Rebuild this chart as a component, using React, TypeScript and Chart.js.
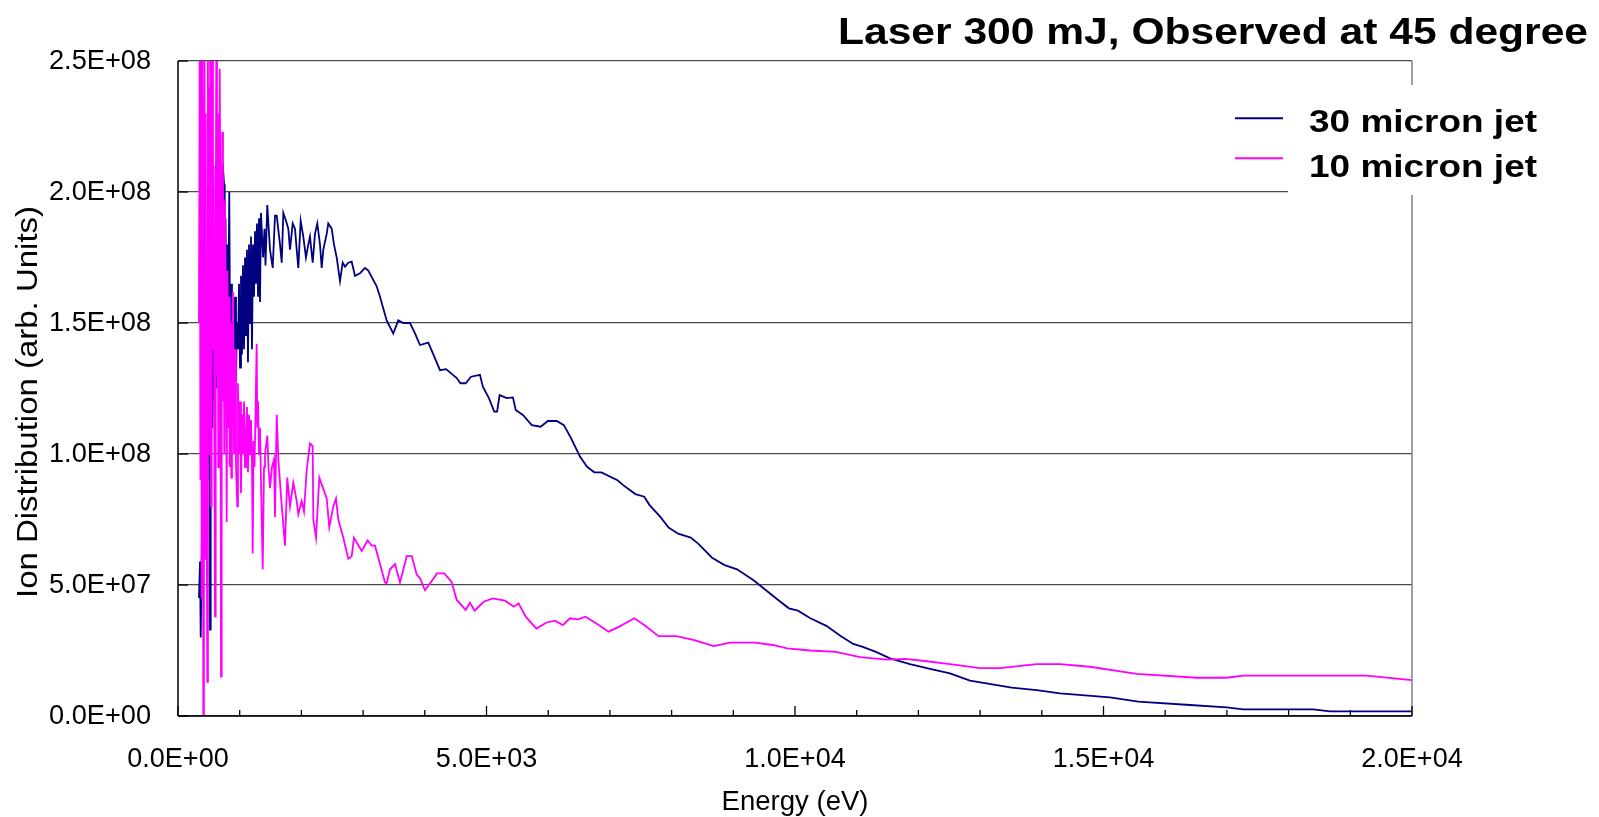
import React, { useEffect, useRef } from 'react';
import { Chart, registerables } from 'chart.js';

Chart.register(...registerables);

const TITLE = 'Laser 300 mJ, Observed at 45 degree';
const X_TITLE = 'Energy (eV)';
const Y_TITLE = 'Ion Distribution (arb. Units)';
const SERIES_NAMES = ['30 micron jet', '10 micron jet'];
const SERIES_COLORS = ['#000080', '#FF00FF'];

const X_MIN = 0;
const X_MAX = 20000;
const X_STEP = 5000;
const X_MINOR_STEP = 1000;
const Y_MIN = 0;
const Y_MAX = 2.5e8;
const Y_STEP = 5e7;
const VALUE_UNIT = 1e6; // values below are in millions

// 30 micron jet
const jet30Energy = [
  340, 357, 368, 381, 397, 413, 429, 446, 462, 478,
  494, 511, 519, 530, 543, 559, 575, 592, 608, 624,
  640, 656, 673, 689, 705, 724, 746, 757, 770, 786,
  802, 815, 831, 843, 859, 875, 891, 908, 924, 940,
  956, 972, 989, 1005, 1021, 1037, 1053, 1070, 1086, 1102,
  1118, 1134, 1151, 1167, 1183, 1199, 1216, 1232, 1248, 1264,
  1280, 1297, 1313, 1329, 1345, 1378, 1402, 1418, 1447, 1491,
  1535, 1572, 1600, 1653, 1681, 1707, 1750, 1788, 1815, 1859,
  1896, 1924, 1950, 1988, 2031, 2074, 2112, 2139, 2183, 2220,
  2258, 2301, 2329, 2355, 2410, 2436, 2491, 2528, 2572, 2626,
  2669, 2707, 2760, 2815, 2869, 2950, 3031, 3084, 3220, 3274,
  3382, 3489, 3570, 3651, 3760, 3841, 3922, 4057, 4138, 4246,
  4345, 4518, 4577, 4663, 4750, 4894, 4941, 5039, 5126, 5172,
  5212, 5329, 5428, 5473, 5590, 5734, 5878, 5995, 6139, 6254,
  6371, 6515, 6630, 6747, 6862, 7123, 7210, 7413, 7557, 7643,
  7818, 7951, 8107, 8309, 8426, 8656, 8859, 9061, 9322, 9525,
  9727, 9901, 10047, 10249, 10508, 10740, 10943, 11087, 11312, 11539,
  11863, 12188, 12512, 12836, 13512, 13917, 14295, 15105, 15564, 16402,
  16996, 17265, 18400, 18670, 20000,
];
const jet30Value = [
  45, 59, 30, 55, 90, 60, 110, 75, 120, 90,
  130, 96, 33, 100, 140, 110, 150, 120, 160, 125,
  180, 140, 170, 130, 195, 211, 203, 150, 190, 140,
  180, 150, 200, 147, 165, 120, 155, 130, 160, 128,
  150, 140, 165, 133, 168, 138, 172, 140, 175, 145,
  178, 135, 180, 150, 183, 140, 180, 160, 185, 165,
  188, 160, 190, 158, 192, 175, 186, 172, 195, 178,
  171, 191, 191, 180, 173, 192, 189, 186, 178, 188,
  186, 178, 171, 189, 183, 175, 180, 183, 173, 184,
  188, 180, 171, 178, 184, 188, 186, 180, 175, 166,
  173, 171.5, 173, 173.4, 168, 169, 171, 170, 164, 160,
  151, 146, 151, 150, 150, 146, 141.6, 142.5, 138, 132,
  132.4, 129, 127, 127, 129.5, 130.2, 125.7, 121.3, 116.2, 116.2,
  122.5, 121.3, 121.6, 116.8, 114.9, 111, 110.4, 112.6, 112.6, 111,
  106, 99, 95.1, 93, 93, 90, 88.2, 84.7, 83.7, 80.5,
  76, 71.9, 69.6, 68.1, 65.9, 60.4, 57.6, 56, 51.9, 48.1,
  44.3, 41.1, 40.2, 37.3, 34.4, 30.5, 27.5, 26.5, 24.5, 22,
  19.8, 18, 16.3, 13.5, 10.8, 9.9, 8.65, 7.1, 5.5, 4.2,
  3.3, 2.5, 2.5, 1.8, 1.8,
];

// 10 micron jet
const jet10Energy = [
  340, 352, 363, 373, 384, 394, 410, 420, 429, 438,
  449, 459, 475, 485, 494, 502, 514, 523, 535, 546,
  556, 567, 579, 588, 600, 611, 621, 632, 643, 653,
  664, 676, 686, 697, 708, 718, 729, 741, 750, 762,
  778, 789, 802, 815, 827, 838, 854, 864, 875, 891,
  908, 924, 940, 961, 972, 989, 1005, 1021, 1037, 1053,
  1070, 1086, 1102, 1118, 1134, 1151, 1167, 1183, 1199, 1211,
  1224, 1240, 1256, 1275, 1285, 1297, 1313, 1329, 1345, 1373,
  1394, 1410, 1447, 1467, 1491, 1523, 1556, 1572, 1600, 1626,
  1669, 1734, 1771, 1815, 1869, 1924, 1950, 2005, 2042, 2086,
  2139, 2183, 2193, 2237, 2290, 2410, 2452, 2517, 2561, 2598,
  2679, 2760, 2815, 2852, 2977, 3074, 3139, 3193, 3274, 3355,
  3382, 3436, 3517, 3598, 3707, 3788, 3869, 3922, 4003, 4084,
  4199, 4316, 4431, 4518, 4663, 4732, 4807, 4953, 5097, 5300,
  5444, 5520, 5635, 5809, 5966, 6110, 6238, 6353, 6486, 6603,
  6776, 6979, 7152, 7395, 7557, 7789, 8077, 8368, 8685, 8946,
  9351, 9641, 9872, 10243, 10664, 11053, 11491, 11783, 12107, 12512,
  12998, 13322, 13917, 14295, 14781, 15538, 16510, 16996, 17265, 19265,
  20000,
];
const jet10Value = [
  150, 260, 90, 270, 45, 250, 0, 180, 280, 60,
  230, 120, 13, 260, 100, 240, 160, 270, 80, 200,
  270, 140, 210, 110, 38, 180, 260, 130, 230, 95,
  170, 247, 200, 15, 150, 223, 120, 190, 100, 197,
  140, 74, 170, 110, 160, 95, 150, 91, 130, 162,
  100, 140, 95, 80, 127, 100, 120, 85, 115, 100,
  120, 95, 105, 118, 93, 115, 100, 113, 96, 62,
  105, 95, 115, 142, 110, 120, 100, 110, 90, 56,
  95, 100, 107, 95, 87, 95, 98, 76, 115, 98,
  84, 65, 91, 80, 89, 82, 77, 82, 78, 94,
  104, 103, 75, 68, 91, 83, 72, 80, 83, 75,
  68, 60, 61, 68, 63, 67, 65, 65, 58, 51,
  50.6, 56, 58, 51, 61, 61, 54, 52.6, 48, 50.6,
  54.4, 54.4, 51.3, 44.3, 40.5, 43.2, 40.2, 43.6, 44.9, 44,
  41.7, 43, 37.9, 33.4, 35.6, 36.4, 34.7, 37.3, 36.9, 37.9,
  35.4, 32.2, 34.1, 37.3, 34.7, 30.5, 30.5, 29, 26.7, 28,
  28, 27.1, 25.8, 25, 24.5, 22.5, 21.5, 21.8, 21, 19.8,
  18.3, 18.3, 19.8, 19.8, 18.8, 16.1, 14.6, 14.6, 15.4, 15.4,
  13.7,
];

const FONT = '"Liberation Sans", Arial, Helvetica, sans-serif';

function sci(v: number): string {
  if (v === 0) return '0.0E+00';
  let exp = Math.floor(Math.log10(Math.abs(v)) + 1e-9);
  let mant = v / Math.pow(10, exp);
  if (Math.abs(mant) >= 9.95) { mant /= 10; exp += 1; }
  const sign = exp >= 0 ? '+' : '-';
  return `${mant.toFixed(1)}E${sign}${String(Math.abs(exp)).padStart(2, '0')}`;
}

function toPoints(xs: number[], ys: number[]) {
  return xs.map((x, i) => ({ x, y: ys[i] * VALUE_UNIT }));
}

function stretchedText(
  ctx: CanvasRenderingContext2D, text: string, x: number, y: number, font: string,
  scaleX: number, align: CanvasTextAlign, baseline: CanvasTextBaseline = 'alphabetic', rotate = 0,
) {
  ctx.save();
  ctx.font = font;
  ctx.translate(x, y);
  if (rotate) ctx.rotate(rotate);
  ctx.scale(scaleX, 1);
  ctx.textAlign = align;
  ctx.textBaseline = baseline;
  ctx.fillStyle = '#000';
  ctx.fillText(text, 0, 0);
  ctx.restore();
}

function fitScale(ctx: CanvasRenderingContext2D, text: string, font: string, width: number) {
  ctx.save();
  ctx.font = font;
  const w = ctx.measureText(text).width;
  ctx.restore();
  return width / w;
}

const decorPlugin = {
  id: 'decor',
  afterDraw(chart: any) {
    const { ctx, chartArea: a, scales } = chart;
    const xs = scales.x;
    const ys = scales.y;
    ctx.save();
    const line = (x1: number, y1: number, x2: number, y2: number) => {
      ctx.beginPath();
      ctx.moveTo(x1, y1);
      ctx.lineTo(x2, y2);
      ctx.stroke();
    };
    // right frame
    ctx.strokeStyle = '#808080';
    ctx.lineWidth = 1.5;
    line(a.right, a.top, a.right, a.bottom);
    // axes
    ctx.strokeStyle = '#000';
    ctx.lineWidth = 1.5;
    line(a.left, a.top, a.left, a.bottom);
    line(a.left, a.bottom, a.right, a.bottom);
    // inward ticks
    ctx.lineWidth = 1.3;
    for (let v = Y_MIN; v <= Y_MAX; v += Y_STEP) {
      const py = ys.getPixelForValue(v);
      line(a.left, py, a.left + 10, py);
    }
    for (let v = X_MIN; v <= X_MAX; v += X_MINOR_STEP) {
      const px = xs.getPixelForValue(v);
      const len = v % X_STEP === 0 ? 10 : 6;
      line(px, a.bottom, px, a.bottom - len);
    }
    // y tick labels
    const yFont = `27px ${FONT}`;
    const ySx = fitScale(ctx, sci(Y_MAX), yFont, 102);
    for (let v = Y_MIN; v <= Y_MAX; v += Y_STEP) {
      const py = ys.getPixelForValue(v);
      stretchedText(ctx, sci(v), a.left - 27, py + 1, yFont, ySx, 'right', 'middle');
    }
    // legend box (covers frame and grid)
    const boxL = a.right - 124;
    const boxT = a.top + 24;
    ctx.fillStyle = '#fff';
    ctx.fillRect(boxL, boxT, chart.width - boxL, 110);
    // legend entries
    const entryY = [a.top + 57.3, a.top + 97.3];
    const textBase = [a.top + 71, a.top + 115.5];
    const legFont = `bold 32px ${FONT}`;
    const legSx = fitScale(ctx, SERIES_NAMES[0], legFont, 228);
    SERIES_NAMES.forEach((name, i) => {
      ctx.strokeStyle = SERIES_COLORS[i];
      ctx.lineWidth = 2;
      line(a.right - 177, entryY[i], a.right - 129, entryY[i]);
      stretchedText(ctx, name, a.right - 103, textBase[i], legFont, legSx, 'left');
    });
    // chart title
    const tFont = `bold 36px ${FONT}`;
    stretchedText(ctx, TITLE, 838, 44, tFont, fitScale(ctx, TITLE, tFont, 750), 'left');
    // axis titles
    const xtFont = `27px ${FONT}`;
    stretchedText(ctx, X_TITLE, (a.left + a.right) / 2, 810, xtFont, fitScale(ctx, X_TITLE, xtFont, 147), 'center');
    const ytFont = `30px ${FONT}`;
    stretchedText(ctx, Y_TITLE, 36.7, 402, ytFont, fitScale(ctx, Y_TITLE, ytFont, 392), 'center', 'alphabetic', -Math.PI / 2);
    ctx.restore();
  },
};

export default function App() {
  const canvasRef = useRef<HTMLCanvasElement | null>(null);

  useEffect(() => {
    const canvas = canvasRef.current;
    if (!canvas) return;
    const chart = new Chart(canvas, {
      type: 'line',
      data: {
        datasets: [
          {
            label: SERIES_NAMES[0],
            data: toPoints(jet30Energy, jet30Value),
            borderColor: SERIES_COLORS[0],
            backgroundColor: SERIES_COLORS[0],
            borderWidth: 1.8,
            pointRadius: 0,
            tension: 0,
            order: 1,
          },
          {
            label: SERIES_NAMES[1],
            data: toPoints(jet10Energy, jet10Value),
            borderColor: SERIES_COLORS[1],
            backgroundColor: SERIES_COLORS[1],
            borderWidth: 1.8,
            pointRadius: 0,
            tension: 0,
            order: 0,
          },
        ],
      },
      options: {
        responsive: false,
        animation: false,
        devicePixelRatio: 1,
        events: [],
        layout: { padding: { top: 61, right: 187, left: 0, bottom: 0 } },
        plugins: {
          legend: { display: false },
          title: { display: false },
          tooltip: { enabled: false },
        },
        scales: {
          x: {
            type: 'linear',
            min: X_MIN,
            max: X_MAX,
            afterFit: (s: any) => { s.height = 101; },
            grid: { display: false, drawTicks: false },
            border: { display: false },
            ticks: {
              stepSize: X_STEP,
              padding: 27,
              color: '#000',
              font: { family: FONT, size: 27 },
              maxRotation: 0,
              callback: (v: any) => sci(Number(v)),
            },
          },
          y: {
            type: 'linear',
            min: Y_MIN,
            max: Y_MAX,
            afterFit: (s: any) => { s.width = 178; },
            grid: { color: '#4a4a4a', lineWidth: 1.2, drawTicks: false },
            border: { display: false },
            ticks: {
              stepSize: Y_STEP,
              display: false,
              callback: (v: any) => sci(Number(v)),
            },
          },
        },
      },
      plugins: [decorPlugin],
    });
    return () => chart.destroy();
  }, []);

  return (
    <div style={{ position: 'fixed', left: 0, top: 0, width: 1599, height: 817, background: '#fff' }}>
      <canvas ref={canvasRef} width={1599} height={817} style={{ display: 'block' }} />
    </div>
  );
}
